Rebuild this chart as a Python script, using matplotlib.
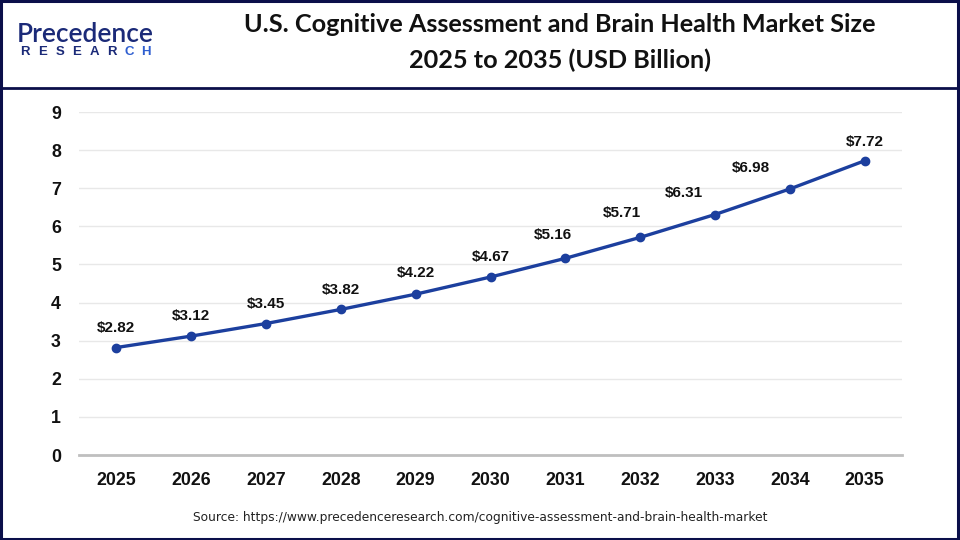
import matplotlib
matplotlib.use("Agg")
import matplotlib.pyplot as plt
from matplotlib.lines import Line2D
from matplotlib.patches import Rectangle

years = [2025, 2026, 2027, 2028, 2029, 2030, 2031, 2032, 2033, 2034, 2035]
values = [2.82, 3.12, 3.45, 3.82, 4.22, 4.67, 5.16, 5.71, 6.31, 6.98, 7.72]
yticks = list(range(0, 10))

title_l1 = "U.S. Cognitive Assessment and Brain Health Market Size"
title_l2 = "2025 to 2035 (USD Billion)"
source = "Source: https://www.precedenceresearch.com/cognitive-assessment-and-brain-health-market"

# label offsets in pixels (layout only)
label_dx = [0, 0, 0, 0, 0, 0, -12, -18, -31, -39, 0]
label_dy = [20, 20, 20, 19, 21, 20, 23, 24, 22, 21, 19]

W, H = 960, 540
fig = plt.figure(figsize=(9.6, 5.4), dpi=100)
fig.patch.set_facecolor("white")

navy = "#0b0f4a"
line_col = "#1c3f9e"

# border
fig.add_artist(Rectangle((0.001, 0.002), 0.997, 0.996, transform=fig.transFigure,
                         fill=False, edgecolor=navy, linewidth=2.2))
# header separator
fig.add_artist(Line2D([0, 1], [1 - 88 / H, 1 - 88 / H], transform=fig.transFigure,
                      color=navy, linewidth=2.0))

# title
fig.text(560 / W, 1 - 25 / H, title_l1, ha="center", va="center",
         fontsize=18.2, fontweight="bold", family="Lato", color="#111111")
fig.text(560 / W, 1 - 60 / H, title_l2, ha="center", va="center",
         fontsize=18.2, fontweight="bold", family="Lato", color="#111111")

# logo
fig.text(17 / W, 1 - 35 / H, "Precedence", ha="left", va="center",
         fontsize=19, fontweight="semibold", family="Lato", color="#1b2a78")
for i, ch in enumerate("RESEARCH"):
    fig.text((25 + i * 17.3) / W, 1 - 52 / H, ch, ha="center", va="center",
             fontsize=9.5, fontweight="bold", family="Liberation Sans",
             color="#1b2a78" if i < 6 else "#2f5fd0")

# axes
ax = fig.add_axes([79 / W, 1 - 455 / H, (902 - 79) / W, (455 - 112) / H])
ax.set_xlim(2024.5, 2035.5)
ax.set_ylim(0, 9)
ax.set_yticks(yticks)
ax.set_xticks(years)
ax.grid(axis="y", color="#e8e8e8", linewidth=1.0)
ax.set_axisbelow(True)
for s in ["left", "right", "top"]:
    ax.spines[s].set_visible(False)
ax.spines["bottom"].set_color("#bfbfbf")
ax.spines["bottom"].set_linewidth(2.0)
ax.spines["bottom"].set_zorder(1)
ax.tick_params(axis="both", length=0, labelsize=12.8)
ax.tick_params(axis="y", pad=13)
ax.tick_params(axis="x", pad=12)
for lab in ax.get_xticklabels() + ax.get_yticklabels():
    lab.set_fontweight("bold")
    lab.set_family("Liberation Sans")
    lab.set_color("#111111")

ax.plot(years, values, color=line_col, linewidth=2.4, marker="o", markersize=6,
        zorder=3, clip_on=False)
for x, v, dx, dy in zip(years, values, label_dx, label_dy):
    ax.annotate(f"${v:.2f}", (x, v), xytext=(dx * 0.72, dy * 0.72),
                textcoords="offset points",
                ha="center", va="center", fontsize=11, fontweight="bold",
                family="Liberation Sans", color="#111111")

fig.text(480 / W, 1 - 518 / H, source, ha="center", va="center",
         fontsize=8.8, family="Liberation Sans Narrow", color="#222222")

fig.savefig("out.png", dpi=100, facecolor="white")
